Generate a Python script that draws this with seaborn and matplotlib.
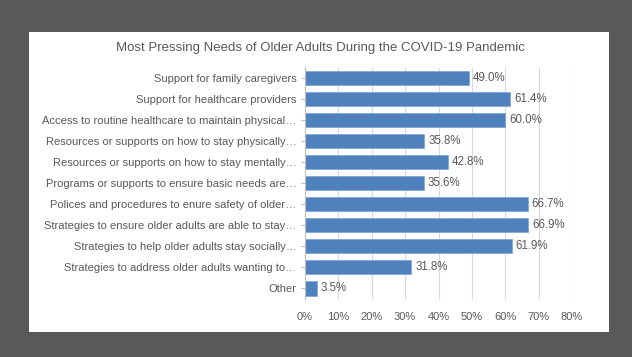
import matplotlib
matplotlib.use("Agg")
import matplotlib.pyplot as plt
import seaborn as sns
import pandas as pd
from matplotlib.patches import Rectangle

categories = [
    "Support for family caregivers",
    "Support for healthcare providers",
    "Access to routine healthcare to maintain physical…",
    "Resources or supports on how to stay physically…",
    "Resources or supports on how to stay mentally…",
    "Programs or supports to ensure basic needs are…",
    "Polices and procedures to enure safety of older…",
    "Strategies to ensure older adults are able to stay…",
    "Strategies to help older adults stay socially…",
    "Strategies to address older adults wanting to…",
    "Other",
]
values = [49.0, 61.4, 60.0, 35.8, 42.8, 35.6, 66.7, 66.9, 61.9, 31.8, 3.5]
xticks = [0, 10, 20, 30, 40, 50, 60, 70, 80]
title = "Most Pressing Needs of Older Adults During the COVID-19 Pandemic"

sns.set_style("white")
plt.rcParams['font.family'] = ['Liberation Sans Narrow', 'Liberation Sans', 'DejaVu Sans']

W, H = 632, 357
fig = plt.figure(figsize=(W / 100, H / 100), dpi=100)
fig.patch.set_facecolor("#595959")
# white panel
fig.patches.append(Rectangle((29 / W, 1 - 332 / H), (609 - 29) / W, (332 - 32) / H,
                             transform=fig.transFigure, facecolor="white",
                             edgecolor="none", zorder=-10))

ax = fig.add_axes([305 / W, 1 - 299 / H, (572 - 305) / W, (299 - 67.5) / H])
ax.set_facecolor("none")
ax.set_zorder(1)

df = pd.DataFrame({"cat": categories, "val": values})
sns.barplot(data=df, x="val", y="cat", color="#4F81BD", saturation=1,
            width=0.67, ax=ax, orient="h")
for p in ax.patches:
    p.set_edgecolor("#7aa3d6")
    p.set_linewidth(0.5)

ax.set_xlim(0, 80)
ax.set_ylim(len(categories) - 0.5, -0.5)
ax.set_xticks(xticks)
ax.set_xticklabels([f"{t}%" for t in xticks], color="#595959", fontsize=8)
ax.tick_params(axis="x", length=0, pad=9)
ax.tick_params(axis="y", length=3, color="#bfbfbf", width=0.8, pad=3,
               labelsize=8, labelcolor="#595959", left=True)
ax.grid(axis="x", color="#d9d9d9", linewidth=0.8)
ax.set_axisbelow(True)
for s in ["top", "right", "bottom"]:
    ax.spines[s].set_visible(False)
ax.spines["left"].set_color("#bfbfbf")
ax.spines["left"].set_linewidth(0.8)
ax.set_xlabel("")
ax.set_ylabel("")

for i, v in enumerate(values):
    ax.text(v + 1.2, i, f"{v:.1f}%", va="center", ha="left",
            fontsize=8.3, color="#595959")

fig.text(320 / W, 1 - 48 / H, title, ha="center", va="center",
         fontsize=9.5, color="#595959")

fig.savefig("out.png", dpi=100, facecolor=fig.get_facecolor())
